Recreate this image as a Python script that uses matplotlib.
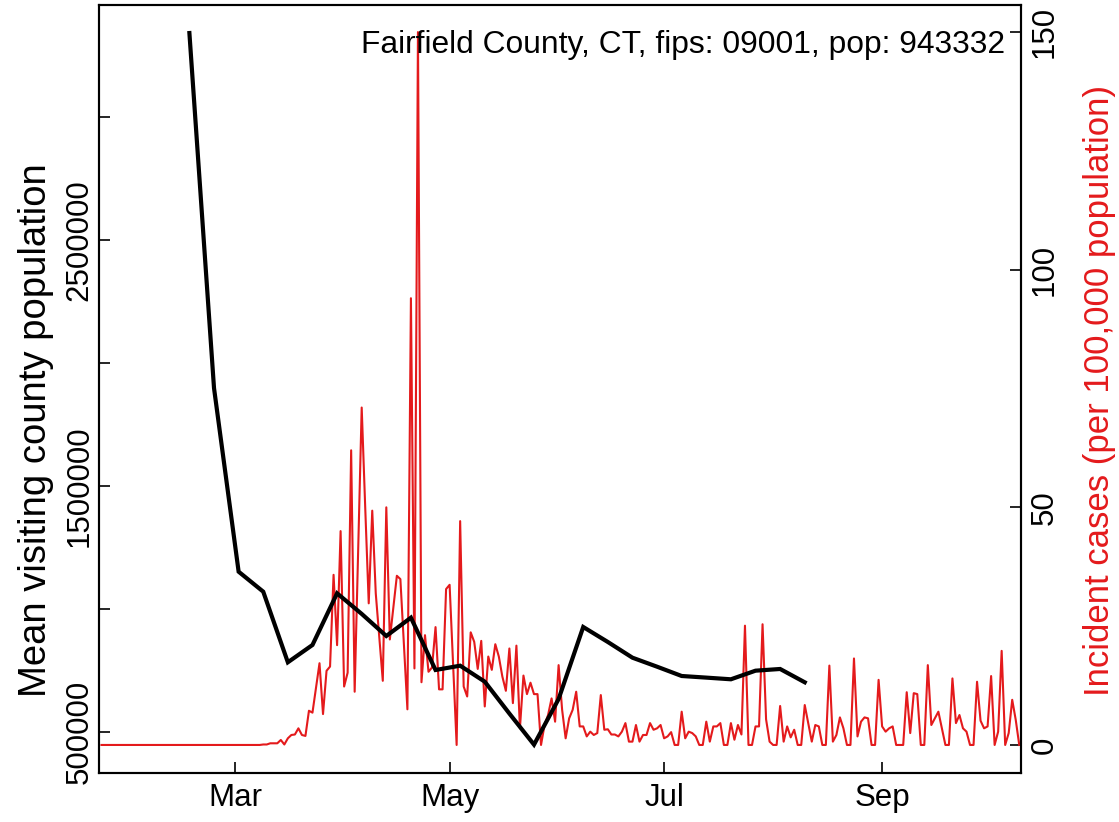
import numpy as np
import pandas as pd
import matplotlib
matplotlib.use('Agg')
import matplotlib.pyplot as plt
import matplotlib.dates as mdates

plt.rcParams['font.family'] = ['Liberation Sans', 'DejaVu Sans']

# Weekly mean visiting population (black) and daily incident cases per 100k (red)
visit_start = '2020-02-17'
visit_pop = [3341000, 1898000, 1151600, 1070300, 783300, 853700, 1063700, 980000,
             890200, 964700, 752000, 769500, 704500, 575000, 448600, 634000,
             926800, 865800, 802000, 765400, 727600, 721000, 714200, 749200,
             756100, 702000]

case_start = '2020-01-23'
cases = [0] * 46 + [
    0.1, 0.1, 0.35, 0.35, 0.35, 1.05, 0.1, 1.4, 2.1, 2.2,
    3.5, 2.1, 1.9, 7.2, 6.8, 12, 17.2, 6.5, 15.6, 16.5,
    35.8, 21, 45, 12.3, 15.2, 62, 11.2, 41, 71, 50,
    29.8, 49.3, 31.9, 22.8, 13.5, 50, 22.2, 29, 35.6, 34.9,
    21.4, 7.5, 94, 16.1, 150, 13.2, 23.1, 15.4, 16.3, 24.8,
    11.7, 11.7, 32.8, 33.7, 16.8, 0, 47.1, 12.3, 10.2, 23.7,
    21.7, 16, 21.9, 8.1, 18.6, 15.8, 21.2, 18.6, 14.4, 11.4,
    20.3, 8.8, 20.9, 3.5, 14.6, 10.7, 13.1, 10.7, 10.7, 0,
    4.2, 6.3, 9.8, 4.9, 16.8, 7.4, 1.4, 5.6, 7.4, 11.2,
    3.9, 3.9, 1.8, 2.8, 2.1, 2.5, 10.5, 3.2, 3.3, 2.2,
    2.2, 1.8, 2.8, 4.6, 0.7,
    # Jun 22 onwards
    0.7, 4.2, 0.7, 2.1, 2.1, 4.6, 3.2, 3.5, 4.2, 1.4,
    1.8, 2.7, 0, 0, 7, 1.4, 2.8, 2.5, 1.8, 0,
    0, 4.9, 0.7, 3.9, 3.9, 4.6, 0, 0, 4.6, 1.1,
    4.2, 2.2, 25.1, 0, 0, 3.9, 3.9, 25.4, 5.4, 0.7,
    0, 0, 8.2, 0.7, 3.9, 1.6, 3.2, 0, 0, 8.4,
    4.6, 0.7, 4.2, 3.9, 0, 0, 16.7, 0.7, 2.1, 5.8,
    3.5, 0, 0, 18.2, 1.8, 4.9, 5.8, 5.6, 0, 0,
    13.7, 3.9, 2.8, 3.5, 3.9, 0, 0, 0, 11.1, 2.5,
    10.9, 10.7, 0, 0, 16.8, 4.2, 5.6, 7, 3.5, 0,
    0, 14, 4.6, 6.3, 3.5, 2.8, 0, 0, 13.3, 5.1,
    3.5, 3.9, 14.5, 0, 2.8, 19.8, 0, 2.5, 9.5, 5.3,
    0,
]

title = 'Fairfield County, CT, fips: 09001, pop: 943332'
left_ticks = [500000, 1000000, 1500000, 2000000, 2500000, 3000000]
left_labels = ['500000', '', '1500000', '', '2500000', '']
right_ticks = [0, 50, 100, 150]

visit_dates = pd.date_range(visit_start, periods=len(visit_pop), freq='7D')
case_dates = pd.date_range(case_start, periods=len(cases), freq='D')

red = '#E41A1C'
fs = 22.5

fig = plt.figure(figsize=(11.19, 8.22), dpi=100)
ax = fig.add_axes([99 / 1119, 49 / 822, 922 / 1119, 768 / 822])
ax2 = ax.twinx()

ax.plot(visit_dates, visit_pop, color='black', lw=3.0, zorder=3,
        solid_joinstyle='miter')
ax2.plot(case_dates, cases, color=red, lw=1.5)
ax.set_zorder(ax2.get_zorder() + 1)
ax.patch.set_visible(False)

x0 = pd.Timestamp('2020-01-22') + pd.Timedelta(hours=7)
x1 = pd.Timestamp('2020-10-10') + pd.Timedelta(hours=12)
ax.set_xlim(x0, x1)
ax.set_ylim(333300, 3455000)
ax2.set_ylim(-5.9, 155.7)

ax.xaxis.set_major_locator(mdates.MonthLocator(bymonth=[3, 5, 7, 9]))
ax.xaxis.set_major_formatter(mdates.DateFormatter('%b'))
ax.set_yticks(left_ticks)
ax.set_yticklabels(left_labels, rotation=90, va='center')
ax2.set_yticks(right_ticks)
ax2.set_yticklabels([str(t) for t in right_ticks], rotation=90, va='center')

ax.tick_params(axis='x', direction='in', length=8, width=1.2, labelsize=fs, pad=7)
ax.tick_params(axis='y', direction='in', length=8, width=1.2, labelsize=fs, pad=3)
ax2.tick_params(axis='y', direction='in', length=8, width=1.2, labelsize=fs, pad=6)
for a in (ax, ax2):
    for s in a.spines.values():
        s.set_linewidth(1.5)

fig.text(36 / 1119, 1 - 430 / 822, 'Mean visiting county population',
         rotation=90, ha='center', va='center', fontsize=27.5)
fig.text(1100 / 1119, 1 - 391 / 822, 'Incident cases (per 100,000 population)',
         rotation=90, ha='center', va='center', fontsize=25, color=red)
ax.text(1005 / 1119, 1 - 45 / 822, title, transform=fig.transFigure,
        ha='right', va='center', fontsize=22.9)

fig.savefig('out.png', dpi=100)
